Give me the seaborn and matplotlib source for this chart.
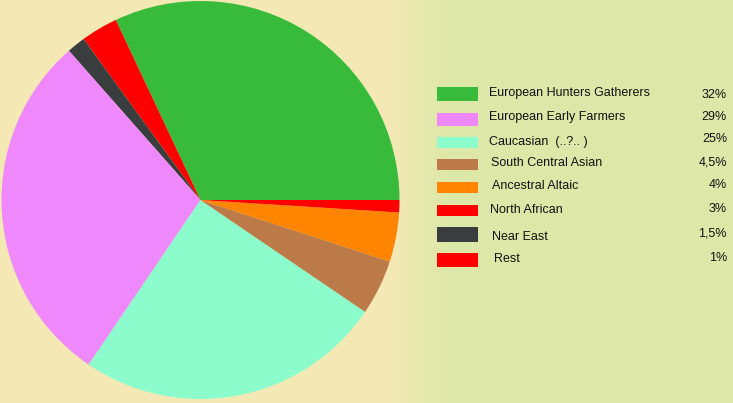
import numpy as np
import matplotlib
matplotlib.use("Agg")
import matplotlib.pyplot as plt
import seaborn as sns
from matplotlib.patches import Rectangle

sns.set_style("white")
plt.rcParams['font.family'] = ['Liberation Sans', 'DejaVu Sans']

# Data (legend order)
labels = ["European Hunters Gatherers", "European Early Farmers", "Caucasian  (..?.. )",
          "South Central Asian", "Ancestral Altaic", "North African", "Near East", "Rest"]
pct_text = ["32%", "29%", "25%", "4,5%", "4%", "3%", "1,5%", "1%"]
values = [32, 29, 25, 4.5, 4, 3, 1.5, 1]
colors = ["#38bb3a", "#ee88fc", "#8cfccc", "#bb7a48", "#ff8400", "#ff0000", "#3a3d3d", "#ff0000"]

# Pie drawing order (counter-clockwise from east)
pie_order = [0, 5, 6, 1, 2, 3, 4, 7]
pie_vals = [values[i] for i in pie_order]
pie_cols = [colors[i] for i in pie_order]

W, H = 733, 403
fig = plt.figure(figsize=(W / 100, H / 100), dpi=100)

# background gradient
bg = fig.add_axes([0, 0, 1, 1])
grad = np.linspace(0, 1, 512)
c0 = np.array([0.96, 0.91, 0.71])
c1 = np.array([0.87, 0.91, 0.66])
t = np.clip((grad - 0.53) / 0.08, 0, 1)
img = (c0[None, :] * (1 - t[:, None]) + c1[None, :] * t[:, None])[None, :, :]
bg.imshow(img, aspect='auto', extent=[0, 1, 0, 1])
bg.set_axis_off()

# pie axes
cx, cy, r = 200.5, 200, 199
ax = fig.add_axes([(cx - r) / W, (H - cy - r) / H, 2 * r / W, 2 * r / H])
ax.pie(pie_vals, colors=pie_cols, startangle=0, counterclock=True,
       wedgeprops=dict(linewidth=0))
ax.set_aspect('equal')
ax.set_xlim(-1, 1)
ax.set_ylim(-1, 1)
ax.set_axis_off()

# legend
rect_y = [94, 119.5, 142.5, 164.5, 187.5, 210.5, 234.5, 260]
rect_h = [14, 13, 11, 11, 11, 11, 15, 14]
text_y = [93, 117, 142, 163, 186, 210, 237, 259]
text_x = [489, 489, 489, 491, 492, 490, 492, 494]
pct_y = [95, 117, 139, 163, 185, 209, 233, 258]
for i, lab in enumerate(labels):
    y0 = rect_y[i] + rect_h[i] / 2
    fig.patches.append(Rectangle((437 / W, 1 - y0 / H), 41 / W, rect_h[i] / H,
                                 transform=fig.transFigure, facecolor=colors[i],
                                 edgecolor='none'))
    fig.text(text_x[i] / W, 1 - text_y[i] / H, lab, fontsize=9, va='center',
             ha='left', color='#111111')
    fig.text(727 / W, 1 - pct_y[i] / H, pct_text[i], fontsize=9, va='center',
             ha='right', color='#111111')

fig.savefig("out.png", dpi=100)
